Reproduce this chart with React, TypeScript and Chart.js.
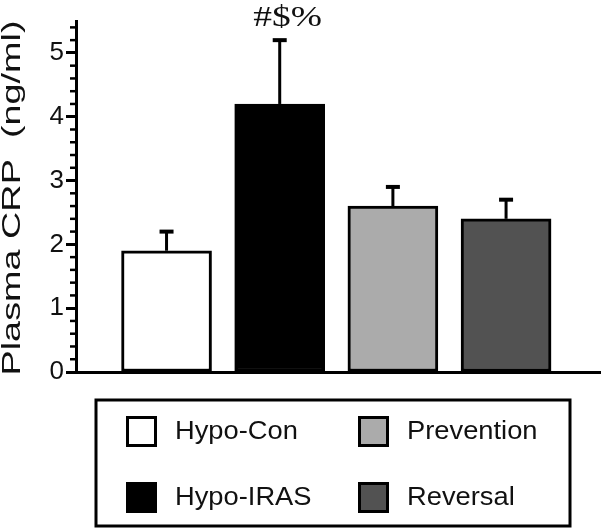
import React, { useEffect, useRef } from "react";
import { Chart, registerables } from "chart.js";

Chart.register(...registerables);

const categories = ["Hypo-Con", "Hypo-IRAS", "Prevention", "Reversal"];
const positions = [1, 2, 3, 4];
const means = [1.9, 4.2, 2.6, 2.4];
const sems = [0.3, 1.0, 0.3, 0.3];
const annotations = ["", "#$%", "", ""];
const fillColors = ["#ffffff", "#000000", "#ababab", "#525252"];
const yMajorTicks = [0, 1, 2, 3, 4, 5];
const yMinorTicks = [0.2, 0.4, 0.6, 0.8, 1.2, 1.4, 1.6, 1.8, 2.2, 2.4, 2.6, 2.8, 3.2, 3.4, 3.6, 3.8, 4.2, 4.4, 4.6, 4.8, 5.2, 5.4];
const yTitle = "Plasma CRP  (ng/ml)";

const SANS = "'Liberation Sans', Arial, sans-serif";
const SERIF = "'Liberation Serif', 'Times New Roman', serif";

const minorTickPlugin = {
  id: "minorTicks",
  afterDraw(chart: any) {
    const ctx = chart.ctx;
    const y = chart.scales.y;
    const x0 = chart.chartArea.left;
    ctx.save();
    ctx.strokeStyle = "#000";
    ctx.lineWidth = 2.5;
    yMinorTicks.forEach((v) => {
      const py = y.getPixelForValue(v);
      ctx.beginPath();
      ctx.moveTo(x0 - 6, py);
      ctx.lineTo(x0, py);
      ctx.stroke();
    });
    ctx.restore();
  },
};

const errorBarPlugin = {
  id: "errorBars",
  afterDatasetsDraw(chart: any) {
    const ctx = chart.ctx;
    const y = chart.scales.y;
    const meta = chart.getDatasetMeta(0);
    ctx.save();
    ctx.strokeStyle = "#000";
    meta.data.forEach((bar: any, i: number) => {
      const base = y.getPixelForValue(means[i]);
      const top = y.getPixelForValue(means[i] + sems[i]);
      ctx.lineWidth = 3;
      ctx.beginPath();
      ctx.moveTo(bar.x, base);
      ctx.lineTo(bar.x, top);
      ctx.stroke();
      ctx.lineWidth = 4;
      ctx.beginPath();
      ctx.moveTo(bar.x - 7, top);
      ctx.lineTo(bar.x + 7, top);
      ctx.stroke();
      if (annotations[i]) {
        ctx.save();
        ctx.fillStyle = "#111";
        ctx.font = `30px ${SERIF}`;
        ctx.textAlign = "center";
        ctx.textBaseline = "alphabetic";
        ctx.translate(bar.x + 8, top - 14);
        ctx.scale(1.25, 1);
        ctx.fillText(annotations[i], 0, 0);
        ctx.restore();
      }
    });
    ctx.restore();
  },
};

const titlePlugin = {
  id: "yTitleStretched",
  afterDraw(chart: any) {
    const ctx = chart.ctx;
    ctx.save();
    ctx.fillStyle = "#111";
    ctx.font = `25px ${SANS}`;
    const w = ctx.measureText(yTitle).width;
    const span = 355;
    ctx.translate(20, 198);
    ctx.rotate(-Math.PI / 2);
    ctx.scale(span / w, 1);
    ctx.textAlign = "center";
    ctx.textBaseline = "alphabetic";
    ctx.fillText(yTitle, 0, 0);
    ctx.restore();
  },
};

const legendPlugin = {
  id: "boxLegend",
  afterDraw(chart: any) {
    const ctx = chart.ctx;
    ctx.save();
    ctx.strokeStyle = "#000";
    ctx.lineWidth = 3;
    ctx.strokeRect(96, 400, 474, 126);
    const cols = [126, 358];
    const rows = [416, 482];
    ctx.font = `26px ${SANS}`;
    ctx.textBaseline = "middle";
    ctx.textAlign = "left";
    categories.forEach((name, i) => {
      const cx = cols[Math.floor(i / 2)];
      const cy = rows[i % 2];
      ctx.fillStyle = fillColors[i];
      ctx.fillRect(cx, cy, 31, 31);
      ctx.lineWidth = 3;
      ctx.strokeStyle = "#000";
      ctx.strokeRect(cx + 1.5, cy + 1.5, 28, 28);
      ctx.fillStyle = "#111";
      ctx.save();
      ctx.translate(cx + 49, cy + 16);
      ctx.scale(1.05, 1);
      ctx.fillText(name, 0, 0);
      ctx.restore();
    });
    ctx.restore();
  },
};

export default function App() {
  const ref = useRef<HTMLCanvasElement | null>(null);

  useEffect(() => {
    document.body.style.margin = "0";
    const canvas = ref.current;
    if (!canvas) return;
    Chart.defaults.font.family = SANS;
    const chart = new Chart(canvas, {
      type: "bar",
      data: {
        datasets: [
          {
            label: "Plasma CRP",
            data: positions.map((x, i) => ({ x, y: means[i] })),
            backgroundColor: fillColors,
            borderColor: "#000",
            borderWidth: 3,
            borderSkipped: false,
            barThickness: 90,
          },
        ],
      },
      options: {
        responsive: false,
        animation: false,
        layout: { padding: { top: 21, bottom: 159, left: 0, right: 1 } },
        plugins: {
          legend: { display: false },
          tooltip: { enabled: false },
          title: { display: false },
        },
        scales: {
          x: {
            type: "linear",
            min: 0.2,
            max: 4.83,
            offset: false,
            grid: { display: false, drawTicks: false },
            ticks: { display: false },
            border: { display: true, color: "#000", width: 3 },
            afterFit: (s: any) => {
              s.height = 0;
            },
          },
          y: {
            min: 0,
            max: 5.5,
            afterBuildTicks: (s: any) => {
              s.ticks = yMajorTicks.map((v) => ({ value: v }));
            },
            afterFit: (s: any) => {
              s.width = 76;
            },
            grid: {
              drawOnChartArea: false,
              drawTicks: true,
              tickLength: 10,
              tickWidth: 3,
              tickColor: "#000",
            },
            border: { display: true, color: "#000", width: 3 },
            ticks: {
              padding: 2,
              color: "#111",
              font: { size: 26, family: SANS },
            },
          },
        },
      },
      plugins: [minorTickPlugin, errorBarPlugin, titlePlugin, legendPlugin],
    });
    return () => chart.destroy();
  }, []);

  return (
    <div style={{ width: 601, height: 531 }}>
      <canvas ref={ref} width={601} height={531} />
    </div>
  );
}
